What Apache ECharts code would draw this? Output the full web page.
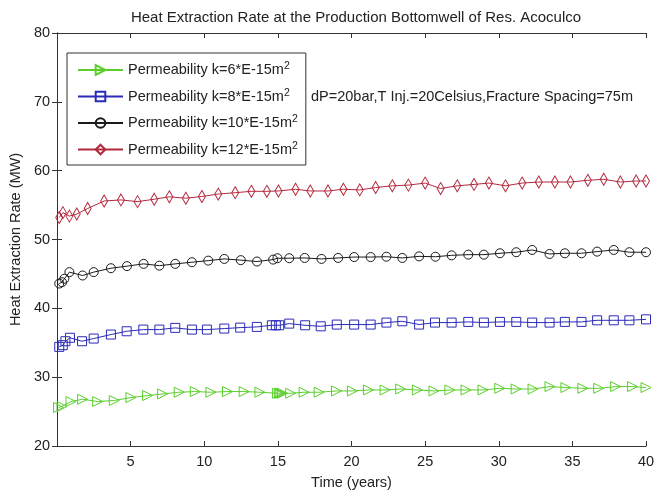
<!DOCTYPE html>
<html>
<head>
<meta charset="utf-8">
<script src="https://cdn.jsdelivr.net/npm/echarts@6/dist/echarts.min.js"></script>
<style>
	html, body { margin: 0; padding: 0; background: #fff; }
	#chart { width: 664px; height: 495px; }
</style>
</head>
<body>
<div id="chart"></div>
<script>
// k=6 (green)
var t6 = [0.1, 0.34, 0.95, 1.74, 2.76, 3.89, 5.02, 6.15, 7.17, 8.3, 9.39, 10.45, 11.58, 12.71, 13.78, 14.97, 15.1, 15.2, 15.31, 15.87, 16.78, 17.8, 18.98, 20.06, 21.15, 22.28, 23.34, 24.47, 25.6, 26.68, 27.78, 28.93, 30.07, 31.18, 32.33, 33.48, 34.56, 35.71, 36.79, 37.94, 39.09, 40];
var k6 = [25.6, 25.74, 26.46, 26.79, 26.46, 26.61, 27.04, 27.33, 27.56, 27.81, 27.91, 27.81, 27.91, 27.91, 27.81, 27.66, 27.66, 27.66, 27.66, 27.66, 27.81, 27.81, 28.0, 28.0, 28.14, 28.14, 28.28, 28.14, 28.0, 28.14, 28.14, 28.14, 28.38, 28.28, 28.28, 28.63, 28.49, 28.38, 28.38, 28.63, 28.63, 28.49];

// k=8 (blue)
var t8 = [0.15, 0.39, 0.57, 0.88, 1.7, 2.49, 3.66, 4.73, 5.86, 6.95, 8.03, 9.16, 10.18, 11.36, 12.44, 13.57, 14.59, 14.86, 15.09, 15.77, 16.85, 17.91, 19.0, 20.18, 21.3, 22.37, 23.45, 24.59, 25.67, 26.8, 27.93, 28.99, 30.08, 31.19, 32.27, 33.45, 34.49, 35.62, 36.68, 37.81, 38.87, 40];
var k8 = [34.4, 34.65, 35.22, 35.72, 35.22, 35.61, 36.19, 36.67, 36.91, 36.91, 37.16, 36.91, 36.91, 37.06, 37.2, 37.3, 37.54, 37.54, 37.54, 37.78, 37.54, 37.39, 37.64, 37.64, 37.64, 37.93, 38.12, 37.64, 37.93, 37.93, 38.03, 37.93, 38.03, 38.03, 37.93, 37.93, 38.03, 38.03, 38.26, 38.26, 38.26, 38.4];

// k=10 (black)
var t10 = [0.15, 0.34, 0.5, 0.84, 1.74, 2.49, 3.66, 4.75, 5.88, 6.95, 8.03, 9.16, 10.27, 11.36, 12.48, 13.58, 14.68, 14.97, 15.77, 16.82, 17.96, 19.09, 20.18, 21.3, 22.37, 23.45, 24.59, 25.7, 26.8, 27.93, 28.99, 30.08, 31.19, 32.27, 33.45, 34.49, 35.62, 36.68, 37.81, 38.87, 40];
var k10 = [43.6, 43.8, 44.3, 45.26, 44.77, 45.26, 45.83, 46.13, 46.46, 46.2, 46.46, 46.7, 46.93, 47.18, 47.0, 46.8, 47.08, 47.28, 47.28, 47.32, 47.18, 47.32, 47.45, 47.45, 47.5, 47.32, 47.55, 47.5, 47.7, 47.8, 47.8, 48.0, 48.15, 48.48, 47.9, 48.0, 48.0, 48.24, 48.48, 48.15, 48.15];

// k=12 (red)
var t12 = [0.15, 0.4, 0.84, 1.34, 2.08, 3.2, 4.34, 5.47, 6.6, 7.63, 8.75, 9.84, 10.95, 12.1, 13.2, 14.25, 15.04, 16.2, 17.2, 18.4, 19.45, 20.56, 21.64, 22.77, 23.86, 25.0, 26.05, 27.18, 28.32, 29.33, 30.46, 31.59, 32.72, 33.81, 34.87, 36.05, 37.13, 38.26, 39.33, 40];
var k12 = [53.2, 53.9, 53.4, 53.7, 54.5, 55.6, 55.75, 55.5, 55.85, 56.2, 56.0, 56.25, 56.6, 56.8, 57.0, 57.0, 57.05, 57.3, 57.05, 57.05, 57.3, 57.2, 57.55, 57.8, 57.9, 58.2, 57.4, 57.8, 58.0, 58.2, 57.8, 58.2, 58.35, 58.35, 58.35, 58.6, 58.75, 58.35, 58.5, 58.5];

var legendNames = ['Permeability k=6*E-15m^2', 'Permeability k=8*E-15m^2', 'Permeability k=10*E-15m^2', 'Permeability k=12*E-15m^2'];
var note = 'dP=20bar,T Inj.=20Celsius,Fracture Spacing=75m';

var font = 'Arial, "Liberation Sans", sans-serif';
var axisColor = '#333';

function pairs(t, v) {
	var out = [];
	for (var i = 0; i < t.length; i++) {
		out.push([t[i], v[i]]);
	}
	return out;
}

function makeSeries(name, t, v, color, symbol, size, rotate) {
	return {
		name: name,
		type: 'line',
		data: pairs(t, v),
		symbol: symbol,
		symbolSize: size,
		symbolRotate: rotate || 0,
		showSymbol: true,
		lineStyle: { color: color, width: 1 },
		itemStyle: { color: 'rgba(255,255,255,0)', borderColor: color, borderWidth: 1 },
		emphasis: { disabled: true },
		animation: false
	};
}

var chart = echarts.init(document.getElementById('chart'));

var option = {
	backgroundColor: '#fff',
	title: {
		text: 'Heat Extraction Rate at the Production Bottomwell of Res. Acoculco',
		left: 351,
		top: 5,
		textAlign: 'center',
		textStyle: { fontFamily: font, fontSize: 15, fontWeight: 'normal', color: '#222' }
	},
	grid: { left: 57, right: 18, top: 33, bottom: 47 },
	legend: {
		orient: 'vertical',
		left: 67,
		top: 53,
		padding: [8, 8, 8, 10],
		itemGap: 10,
		itemWidth: 45,
		itemHeight: 12,
		borderColor: '#333',
		borderWidth: 1,
		backgroundColor: '#fff',
		data: legendNames,
		formatter: function (name) {
			return '{b|' + name.replace('^2', '') + '}{s|2}';
		},
		textStyle: {
			fontFamily: font,
			fontSize: 14.5,
			color: '#222',
			rich: {
				b: { fontFamily: font, fontSize: 14.5, color: '#222' },
				s: { fontFamily: font, fontSize: 10.5, color: '#222', padding: [0, 0, 7, 0] }
			}
		}
	},
	graphic: [{
		type: 'text',
		left: 311,
		top: 89,
		style: { text: note, fontFamily: font, fontSize: 14.5, fill: '#222' }
	}],
	xAxis: [{
		type: 'value',
		min: 0,
		max: 40,
		interval: 5,
		name: 'Time (years)',
		nameLocation: 'middle',
		nameGap: 29,
		nameTextStyle: { fontFamily: font, fontSize: 14.5, color: '#222' },
		axisLine: { lineStyle: { color: axisColor } },
		axisTick: { inside: true, length: 5, lineStyle: { color: axisColor } },
		axisLabel: {
			fontFamily: font, fontSize: 14.5, color: '#222', margin: 8,
			formatter: function (v) { return v === 0 ? '' : v; }
		},
		splitLine: { show: false }
	}, {
		type: 'value',
		position: 'top',
		min: 0,
		max: 40,
		interval: 5,
		axisLine: { lineStyle: { color: axisColor } },
		axisTick: { inside: true, length: 5, lineStyle: { color: axisColor } },
		axisLabel: { show: false },
		splitLine: { show: false }
	}],
	yAxis: [{
		type: 'value',
		min: 20,
		max: 80,
		interval: 10,
		name: 'Heat Extraction Rate (MW)',
		nameLocation: 'middle',
		nameGap: 30,
		nameTextStyle: { fontFamily: font, fontSize: 14.5, color: '#222' },
		axisLine: { show: true, lineStyle: { color: axisColor } },
		axisTick: { show: true, inside: true, length: 5, lineStyle: { color: axisColor } },
		axisLabel: { fontFamily: font, fontSize: 14.5, color: '#222', margin: 7 },
		splitLine: { show: false }
	}, {
		type: 'value',
		position: 'right',
		min: 20,
		max: 80,
		interval: 10,
		axisLine: { show: true, lineStyle: { color: axisColor } },
		axisTick: { show: true, inside: true, length: 5, lineStyle: { color: axisColor } },
		axisLabel: { show: false },
		splitLine: { show: false }
	}],
	series: [
		makeSeries(legendNames[0], t6, k6, '#5acf2c', 'triangle', 10, -90),
		makeSeries(legendNames[1], t8, k8, '#2b2bb8', 'rect', 9),
		makeSeries(legendNames[2], t10, k10, '#1a1a1a', 'circle', 9),
		makeSeries(legendNames[3], t12, k12, '#b3283c', 'diamond', [7, 12])
	]
};

chart.setOption(option);
</script>
</body>
</html>
